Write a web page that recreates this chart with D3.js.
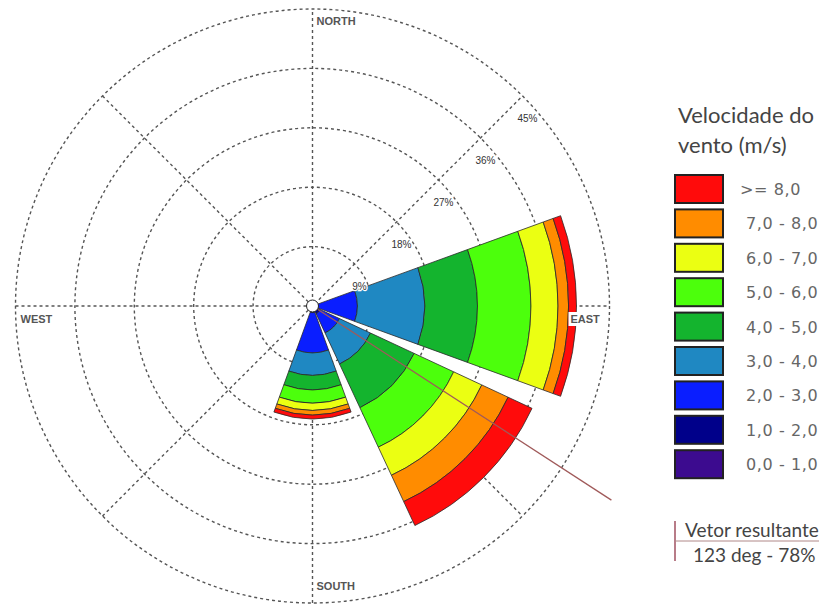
<!DOCTYPE html>
<html>
<head>
<meta charset="utf-8">
<script src="https://cdn.jsdelivr.net/npm/d3@7"></script>
<style>
  html, body { margin: 0; padding: 0; background: #fff; }
  svg { display: block; }
</style>
</head>
<body>
<svg id="chart" width="819" height="606"></svg>
<script>
// Wind speed classes (m/s), lowest first
const speedBins = ["0,0 - 1,0", "1,0 - 2,0", "2,0 - 3,0", "3,0 - 4,0", "4,0 - 5,0",
                   "5,0 - 6,0", "6,0 - 7,0", "7,0 - 8,0", ">= 8,0"];
const binColors = ["#3c0b8f", "#00008a", "#0a1eff", "#1f88c2", "#14b42e",
                   "#4cff0c", "#ebff12", "#ff8c00", "#ff0b0b"];

// Sector centres (degrees from north, clockwise) that carry data
const sectorDirections = [90, 135, 180];
// Frequency (%) per speed class for each sector
const freqEast      = [0.3, 0.5, 6.0, 10.2, 8.0, 8.1, 4.1, 1.6, 1.2];
const freqSoutheast = [0.3, 1.0, 3.2, 5.2, 7.3, 6.6, 4.7, 4.4, 4.0];
const freqSouth     = [0.3, 0.7, 6.1, 3.4, 2.2, 2.0, 1.1, 0.7, 0.6];

// Polar grid
const ringValues = [9, 18, 27, 36, 45];
const ringLabels = ["9%", "18%", "27%", "36%", "45%"];
const spokeAngles = [0, 45, 90, 135];
const compassNames = ["NORTH", "EAST", "SOUTH", "WEST"];

// Resultant vector
const resultantDeg = 123;
const resultantPct = 78;
const resultantExtent = 54;

const svg = d3.select("#chart");
const cx = 312.5, cy = 306;
const rMax = 297;
const sectorWidth = 40;
const rad = d => d * Math.PI / 180;

const r = d3.scaleLinear().domain([0, 45]).range([0, rMax]);

const g = svg.append("g").attr("transform", `translate(${cx},${cy})`);

// ---- grid ----
const gridStyle = sel => sel.attr("fill", "none").attr("stroke", "#555")
  .attr("stroke-width", 1.4).attr("stroke-dasharray", "3,3");

g.selectAll("circle.ring").data(ringValues).join("circle")
  .attr("class", "ring").attr("r", d => r(d)).call(gridStyle);

g.selectAll("line.spoke").data(spokeAngles).join("line")
  .attr("class", "spoke")
  .attr("x1", d => -r(45) * Math.sin(rad(d))).attr("y1", d => r(45) * Math.cos(rad(d)))
  .attr("x2", d => r(45) * Math.sin(rad(d))).attr("y2", d => -r(45) * Math.cos(rad(d)))
  .call(gridStyle);

// ---- stacked sectors ----
const sectorFreqs = [freqEast, freqSoutheast, freqSouth];
const arc = d3.arc();
const bands = [];
sectorDirections.forEach((dir, i) => {
  let cum = 0;
  sectorFreqs[i].forEach((v, k) => {
    bands.push({ dir, k, inner: cum, outer: cum + v });
    cum += v;
  });
});

g.selectAll("path.band").data(bands).join("path")
  .attr("class", "band")
  .attr("d", d => arc({
    innerRadius: r(d.inner), outerRadius: r(d.outer),
    startAngle: rad(d.dir - sectorWidth / 2), endAngle: rad(d.dir + sectorWidth / 2)
  }))
  .attr("fill", d => binColors[d.k])
  .attr("stroke", "#2a2a2a").attr("stroke-width", 0.8).attr("stroke-linejoin", "round");

// ---- resultant vector ----
g.append("line")
  .attr("x1", 0).attr("y1", 0)
  .attr("x2", r(resultantExtent) * Math.sin(rad(resultantDeg)))
  .attr("y2", -r(resultantExtent) * Math.cos(rad(resultantDeg)))
  .attr("stroke", "#a05a5a").attr("stroke-width", 1.3);

// centre hub
g.append("circle").attr("r", 6).attr("fill", "#fff")
  .attr("stroke", "#222").attr("stroke-width", 1);

// ---- ring labels ----
g.selectAll("text.ringlabel").data(ringValues).join("text")
  .attr("class", "ringlabel")
  .attr("x", d => r(d) * Math.SQRT1_2 + 5)
  .attr("y", d => -r(d) * Math.SQRT1_2 + 26)
  .attr("text-anchor", "middle")
  .attr("font-family", "Liberation Sans, Arial, sans-serif")
  .attr("font-size", 10).attr("fill", "#333")
  .attr("stroke", "#fff").attr("stroke-width", 2.5).attr("paint-order", "stroke")
  .text((d, i) => ringLabels[i]);

// ---- compass labels ----
const compassPos = [
  { x: 4, y: -r(45) + 16, anchor: "start" },
  { x: r(45) - 39, y: 17, anchor: "start", boxed: true },
  { x: 4, y: r(45) - 13, anchor: "start" },
  { x: -r(45) + 5, y: 17, anchor: "start" }
];
compassNames.forEach((name, i) => {
  const p = compassPos[i];
  const t = g.append("text")
    .attr("x", p.x).attr("y", p.y).attr("text-anchor", p.anchor)
    .attr("font-family", "Liberation Sans, Arial, sans-serif")
    .attr("font-weight", "bold").attr("font-size", 11).attr("fill", "#555")
    .text(name);
  if (p.boxed) {
    const b = t.node().getBBox();
    g.insert("rect", () => t.node())
      .attr("x", b.x - 2).attr("y", b.y - 1).attr("width", b.width + 4).attr("height", b.height + 2)
      .attr("fill", "#fff");
  }
});

// ---- legend ----
const lg = svg.append("g").attr("transform", "translate(678,0)");
lg.append("text").attr("x", 0).attr("y", 123)
  .attr("font-family", "Lato, sans-serif").attr("font-size", 22).attr("fill", "#444")
  .text("Velocidade do");
lg.append("text").attr("x", 0).attr("y", 153)
  .attr("font-family", "Lato, sans-serif").attr("font-size", 22).attr("fill", "#444")
  .text("vento (m/s)");

const legendOrder = d3.range(speedBins.length).reverse();
const ly = d3.scaleBand().domain(legendOrder).range([175, 175 + 34.4 * speedBins.length]);

lg.selectAll("rect.key").data(legendOrder).join("rect")
  .attr("class", "key")
  .attr("x", -3).attr("y", d => ly(d)).attr("width", 48).attr("height", 28)
  .attr("fill", d => binColors[d]).attr("stroke", "#222").attr("stroke-width", 2);

lg.selectAll("text.keylabel").data(legendOrder).join("text")
  .attr("class", "keylabel")
  .attr("x", d => d === speedBins.length - 1 ? 62 : 68)
  .attr("y", d => ly(d) + 20)
  .attr("font-family", "DejaVu Sans, sans-serif").attr("font-size", 16)
  .attr("letter-spacing", 0.6).attr("fill", "#666")
  .text(d => speedBins[d]);

// resultant vector legend
const vg = svg.append("g").attr("transform", "translate(675,0)");
vg.append("line").attr("x1", 0).attr("x2", 0).attr("y1", 521).attr("y2", 561)
  .attr("stroke", "#a05060").attr("stroke-width", 1.5);
vg.append("line").attr("x1", 0).attr("x2", 150).attr("y1", 541).attr("y2", 541)
  .attr("stroke", "#b08888").attr("stroke-width", 1);
vg.append("text").attr("x", 10).attr("y", 537)
  .attr("font-family", "Lato, sans-serif").attr("font-size", 19).attr("fill", "#444")
  .text("Vetor resultante");
vg.append("text").attr("x", 18).attr("y", 562)
  .attr("font-family", "Lato, sans-serif").attr("font-size", 19).attr("fill", "#444")
  .text(`${resultantDeg} deg - ${resultantPct}%`);
</script>
</body>
</html>
